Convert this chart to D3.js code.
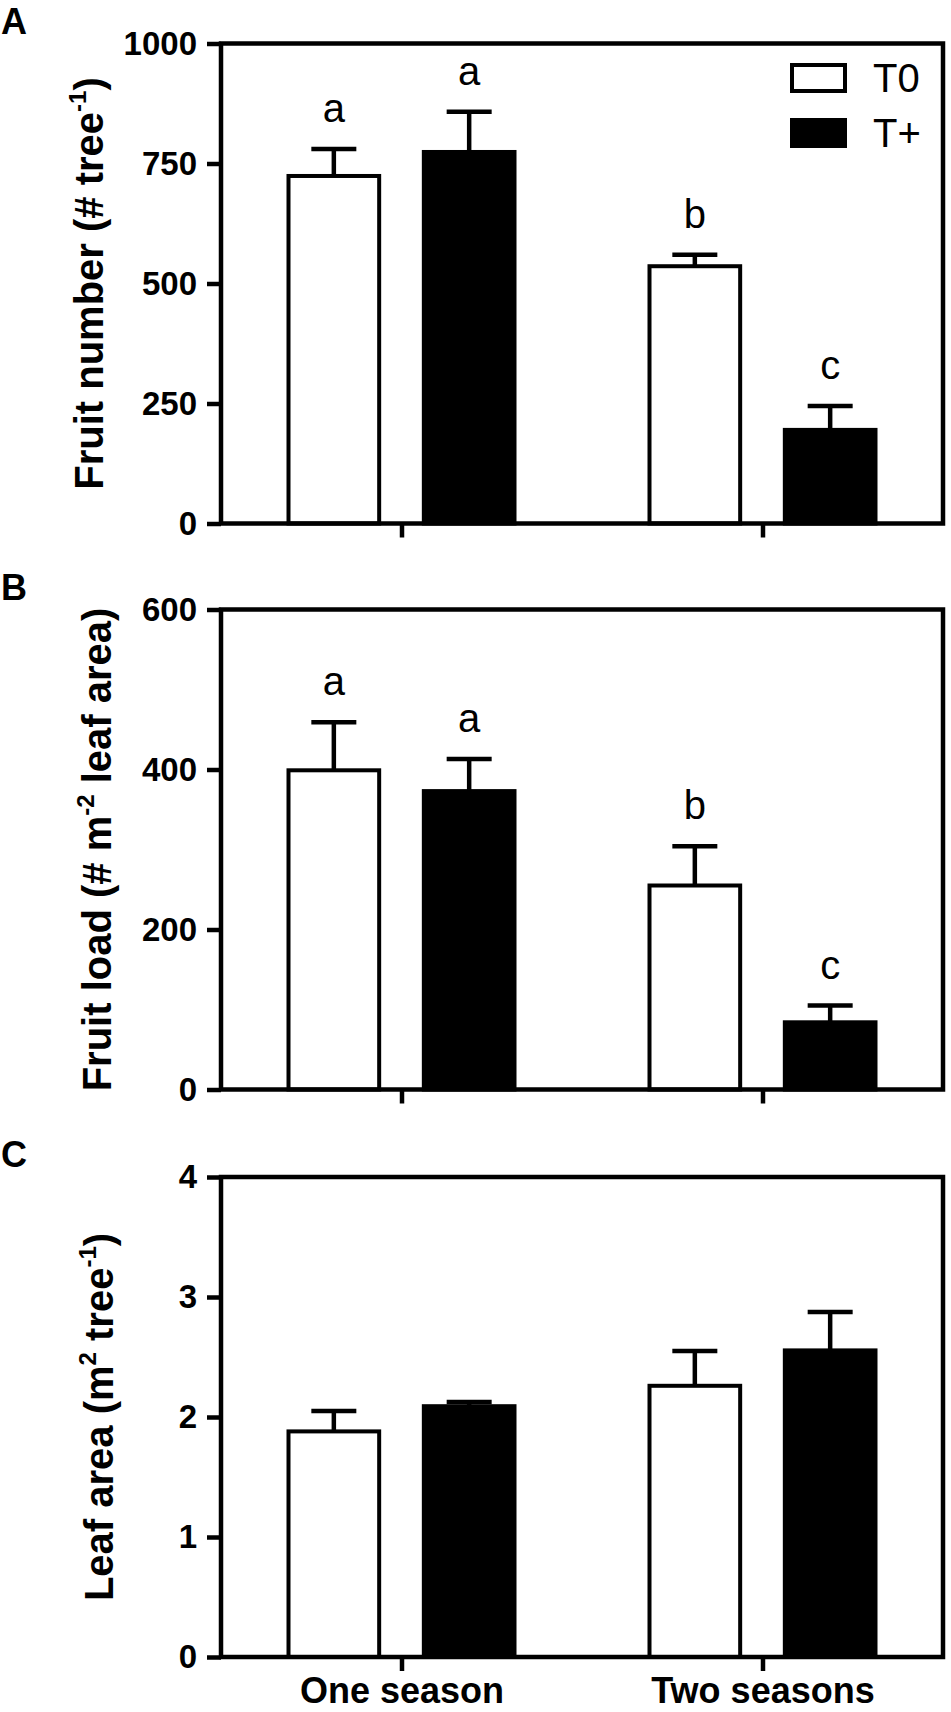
<!DOCTYPE html>
<html>
<head>
<meta charset="utf-8">
<script src="https://cdn.jsdelivr.net/npm/d3@7"></script>
<style>
body { margin: 0; background: #fff; }
svg { display: block; font-family: 'Liberation Sans', Arial, Helvetica, sans-serif; }
</style>
</head>
<body>
<svg width="951" height="1712"></svg>
<script>
var categories = ['One season', 'Two seasons'];
var series = ['T0', 'T+'];

// A: fruit number per tree
var fruitNumberT0 = [724, 536];
var fruitNumberT0Se = [56, 24];
var fruitNumberTp = [774, 195];
var fruitNumberTpSe = [84, 50];
var fruitNumberT0Letters = ['a', 'b'];
var fruitNumberTpLetters = ['a', 'c'];
var fruitNumberTicks = [0, 250, 500, 750, 1000];

// B: fruit load per leaf area
var fruitLoadT0 = [399, 255];
var fruitLoadT0Se = [60, 49];
var fruitLoadTp = [373, 84];
var fruitLoadTpSe = [40, 21];
var fruitLoadT0Letters = ['a', 'b'];
var fruitLoadTpLetters = ['a', 'c'];
var fruitLoadTicks = [0, 200, 400, 600];

// C: leaf area per tree
var leafAreaT0 = [1.88, 2.26];
var leafAreaT0Se = [0.17, 0.29];
var leafAreaTp = [2.09, 2.555];
var leafAreaTpSe = [0.035, 0.32];
var leafAreaTicks = [0, 1, 2, 3, 4];


var margins = {L: 221, R: 8};
var W = 951 - margins.L - margins.R;
var H = 480;

var panels = [
	{label: 'A', top: 43.5, titleX: 103, ticks: fruitNumberTicks,
		t0: fruitNumberT0, t0Se: fruitNumberT0Se, tp: fruitNumberTp, tpSe: fruitNumberTpSe,
		t0Letters: fruitNumberT0Letters, tpLetters: fruitNumberTpLetters,
		title: [['Fruit number (# tree', 0], ['-1', 1], [')', 0]], legend: true, xLabels: false},
	{label: 'B', top: 609.5, titleX: 111, ticks: fruitLoadTicks,
		t0: fruitLoadT0, t0Se: fruitLoadT0Se, tp: fruitLoadTp, tpSe: fruitLoadTpSe,
		t0Letters: fruitLoadT0Letters, tpLetters: fruitLoadTpLetters,
		title: [['Fruit load (# m', 0], ['-2', 1], [' leaf area)', 0]], legend: false, xLabels: false},
	{label: 'C', top: 1177, titleX: 113, ticks: leafAreaTicks,
		t0: leafAreaT0, t0Se: leafAreaT0Se, tp: leafAreaTp, tpSe: leafAreaTpSe,
		t0Letters: null, tpLetters: null,
		title: [['Leaf area (m', 0], ['2', 1], [' tree', 0], ['-1', 1], [')', 0]], legend: false, xLabels: true}
];


function rows(p) {
	var out = [];
	categories.forEach(function(c, i) {
		out.push({cat: c, s: 'T0', v: p.t0[i], se: p.t0Se[i], letter: p.t0Letters ? p.t0Letters[i] : null});
		out.push({cat: c, s: 'T+', v: p.tp[i], se: p.tpSe[i], letter: p.tpLetters ? p.tpLetters[i] : null});
	});
	return out;
}


function renderPanel(svg, p) {
	var g = svg.append('g')
		.attr('transform', 'translate(' + margins.L + ',' + p.top + ')');

	var y = d3.scaleLinear()
					.domain([0, d3.max(p.ticks)])
					.range([H, 0]);
	var x0 = d3.scalePoint()
					.domain(categories)
					.range([0, W])
					.padding(0.5);
	var x1 = d3.scaleBand()
					.domain(series)
					.range([-113, 113])
					.paddingInner(0.33);

	var data = rows(p);
	var cx = function(d) { return x0(d.cat) + x1(d.s) + x1.bandwidth() / 2; };

	// bars
	g.selectAll('rect.bar')
		.data(data)
		.enter().append('rect')
		.attr('class', 'bar')
		.attr('x', function(d) { return x0(d.cat) + x1(d.s); })
		.attr('y', function(d) { return y(d.v); })
		.attr('width', x1.bandwidth())
		.attr('height', function(d) { return H - y(d.v); })
		.attr('fill', function(d) { return d.s === 'T0' ? '#fff' : '#000'; })
		.attr('stroke', '#000')
		.attr('stroke-width', 4);

	// upper error bars
	var err = g.selectAll('g.err')
		.data(data)
		.enter().append('g')
		.attr('class', 'err')
		.attr('stroke', '#000')
		.attr('stroke-width', 4.5);
	err.append('line')
		.attr('x1', cx).attr('x2', cx)
		.attr('y1', function(d) { return y(d.v); })
		.attr('y2', function(d) { return y(d.v + d.se); });
	err.append('line')
		.attr('x1', function(d) { return cx(d) - 22.5; })
		.attr('x2', function(d) { return cx(d) + 22.5; })
		.attr('y1', function(d) { return y(d.v + d.se); })
		.attr('y2', function(d) { return y(d.v + d.se); });

	// significance letters
	g.selectAll('text.letter')
		.data(data.filter(function(d) { return d.letter; }))
		.enter().append('text')
		.attr('class', 'letter')
		.attr('x', cx)
		.attr('y', function(d) { return y(d.v + d.se) - 27; })
		.attr('text-anchor', 'middle')
		.style('font-size', '40px')
		.text(function(d) { return d.letter; });

	// frame
	g.append('rect')
		.attr('width', W)
		.attr('height', H)
		.attr('fill', 'none')
		.attr('stroke', '#000')
		.attr('stroke-width', 4.5);

	var yAxis = d3.axisLeft(y)
							.tickValues(p.ticks)
							.tickFormat(d3.format('d'))
							.tickSize(14)
							.tickPadding(10);
	var ya = g.append('g').call(yAxis);
	ya.select('.domain').remove();
	ya.selectAll('line').attr('stroke-width', 4.5);
	ya.selectAll('text')
		.style('font-size', '33px')
		.style('font-weight', 'bold')
		.attr('fill', '#000');

	var xAxis = d3.axisBottom(x0)
							.tickSize(14)
							.tickSizeOuter(0)
							.tickPadding(6);
	if(!p.xLabels) {
		xAxis.tickFormat('');
	}
	var xa = g.append('g')
		.attr('transform', 'translate(0,' + H + ')')
		.call(xAxis);
	xa.select('.domain').remove();
	xa.selectAll('line').attr('stroke-width', 4.5);
	xa.selectAll('text')
		.style('font-size', '36px')
		.style('font-weight', 'bold')
		.attr('fill', '#000');

	// y title
	var title = svg.append('text')
		.attr('transform', 'translate(' + p.titleX + ',' + (p.top + H / 2) + ') rotate(-90)')
		.attr('text-anchor', 'middle')
		.style('font-size', '40px')
		.style('font-weight', 'bold');
	var raised = false;
	p.title.forEach(function(part) {
		var t = title.append('tspan').text(part[0]);
		if(part[1] && !raised) {
			t.attr('dy', -17).style('font-size', '24px');
			raised = true;
		} else if(!part[1] && raised) {
			t.attr('dy', 17);
			raised = false;
		}
	});

	// panel letter
	svg.append('text')
		.attr('x', 1)
		.attr('y', p.top - 10)
		.style('font-size', '36px')
		.style('font-weight', 'bold')
		.text(p.label);

	if(p.legend) {
		var lg = g.append('g')
			.attr('transform', 'translate(' + (W - 151) + ',21.5)');
		var item = lg.selectAll('g')
			.data(series)
			.enter().append('g')
			.attr('transform', function(d, i) { return 'translate(0,' + (i * 55) + ')'; });
		item.append('rect')
			.attr('width', 53)
			.attr('height', 26)
			.attr('fill', function(d) { return d === 'T0' ? '#fff' : '#000'; })
			.attr('stroke', '#000')
			.attr('stroke-width', 4);
		item.append('text')
			.attr('x', 81)
			.attr('y', 13)
			.attr('dy', '0.36em')
			.style('font-size', '40px')
			.text(function(d) { return d; });
	}
}


var svg = d3.select('svg');
panels.forEach(function(p) {
	renderPanel(svg, p);
});
</script>
</body>
</html>
